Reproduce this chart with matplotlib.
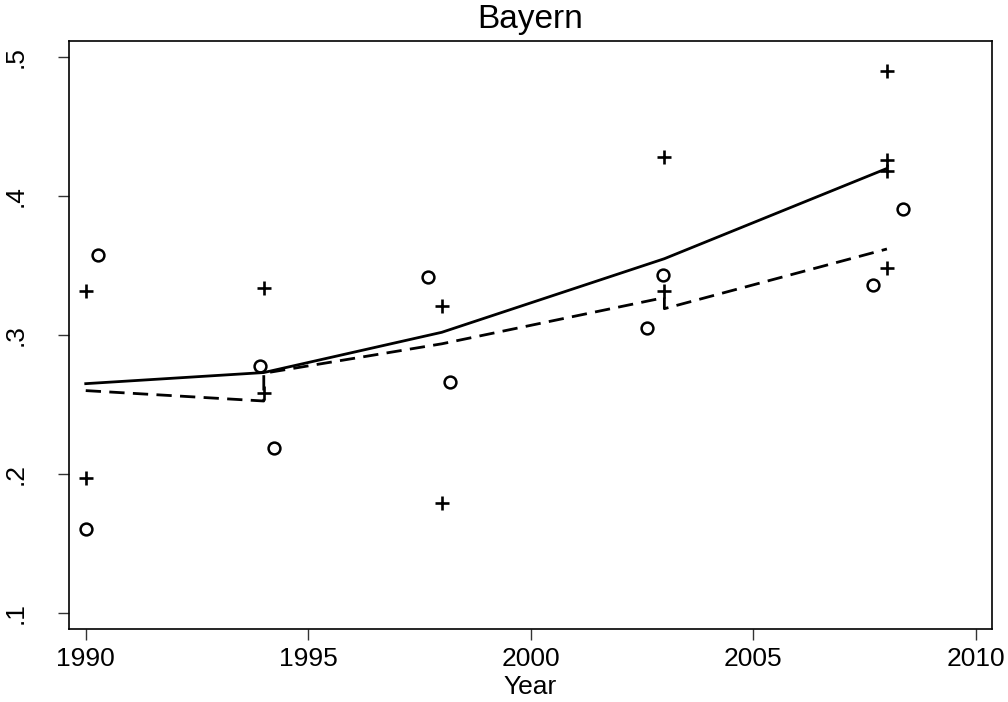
import matplotlib
matplotlib.use("Agg")
import matplotlib.pyplot as plt

plt.rcParams["font.family"] = ["Liberation Sans", "DejaVu Sans"]

# observed shares, + series at survey years
plus_years = [1990, 1990, 1994, 1994, 1998, 1998, 2003, 2003, 2008, 2008, 2008, 2008]
plus_vals = [0.332, 0.197, 0.334, 0.258, 0.321, 0.179, 0.428, 0.332, 0.490, 0.426, 0.418, 0.348]

# observed shares, o series (slightly offset years)
circ_years = [1990.0, 1990.28, 1993.92, 1994.24, 1997.69, 1998.18, 2002.62, 2002.96, 2007.68, 2008.37]
circ_vals = [0.160, 0.358, 0.278, 0.219, 0.342, 0.266, 0.305, 0.343, 0.336, 0.391]

# fitted trend lines
fit_years = [1990, 1994, 1998, 2003, 2008]
fit_solid = [0.265, 0.273, 0.302, 0.355, 0.420]

dash_years = [1990, 1994, 1994, 1998, 2003, 2003, 2008]
fit_dash = [0.260, 0.2525, 0.2725, 0.2937, 0.327, 0.319, 0.362]

fig = plt.figure(figsize=(10.08, 7.02), dpi=100)
ax = fig.add_axes([0.0685, 0.104, 0.9156, 0.838])

ax.plot(fit_years, fit_solid, color="black", lw=2, solid_joinstyle="miter")
ax.plot(dash_years, fit_dash, color="black", lw=2, dashes=(5.5, 3))
ax.plot(plus_years, plus_vals, ls="none", marker="+", ms=10, mew=1.9, color="black")
ax.plot(circ_years, circ_vals, ls="none", marker="o", ms=8.5, mew=1.8,
        mfc="none", mec="black")

ax.set_xlim(1989.625, 2010.36)
ax.set_ylim(0.0883, 0.512)
ax.set_xticks([1990, 1995, 2000, 2005, 2010])
ax.set_yticks([0.1, 0.2, 0.3, 0.4, 0.5])
ax.set_yticklabels([".1", ".2", ".3", ".4", ".5"], rotation=90, va="center")

for s in ax.spines.values():
    s.set_linewidth(1.2)
ax.tick_params(axis="x", length=8, width=1, color="#333333", labelsize=19, pad=5)
ax.tick_params(axis="y", length=8, width=1, color="#333333", labelsize=19, pad=22)

ax.set_xlabel("Year", fontsize=19, labelpad=3)
ax.set_title("Bayern", fontsize=24, pad=9)

fig.savefig("out.png", dpi=100, facecolor="white")
